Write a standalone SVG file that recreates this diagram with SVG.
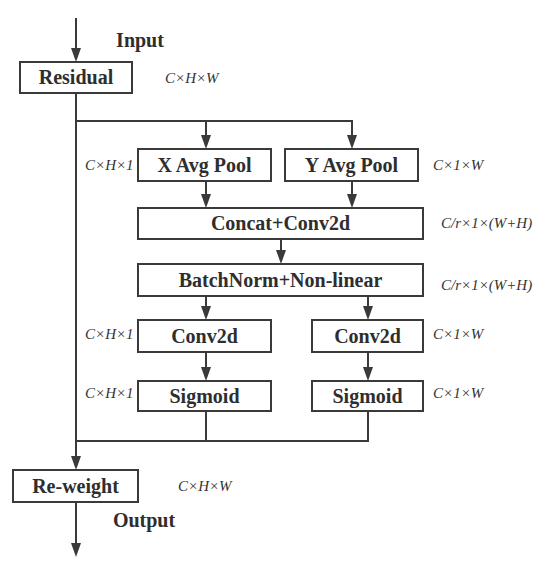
<svg xmlns="http://www.w3.org/2000/svg" width="550" height="575" viewBox="0 0 550 575">
<defs>
<style>
.box{fill:#fff;stroke:#3a3a3a;stroke-width:2}
.t{font-family:"Liberation Serif","Times New Roman",serif;font-weight:bold;font-size:20px;fill:#2e2e2e;text-anchor:middle}
.d{font-family:"Liberation Serif","Times New Roman",serif;font-style:italic;font-size:15px;fill:#333}
.c{fill:none;stroke:#3a3a3a;stroke-width:2}
.h{fill:#3a3a3a}
</style>
</defs>
<rect width="550" height="575" fill="#fff"/>
<g id="connectors">
<line class="c" x1="76" y1="18" x2="76" y2="48"/>
<path class="h" d="M71,48 L81,48 L76,62 Z"/>
<polyline class="c" points="76,93 76,456"/>
<path class="h" d="M71,456 L81,456 L76,470 Z"/>
<polyline class="c" points="76,121 352,121 352,135"/>
<line class="c" x1="206" y1="121" x2="206" y2="135"/>
<path class="h" d="M201,135 L211,135 L206,149 Z"/>
<path class="h" d="M347,135 L357,135 L352,149 Z"/>
<line class="c" x1="206" y1="181" x2="206" y2="194"/>
<path class="h" d="M201,194 L211,194 L206,208 Z"/>
<line class="c" x1="352" y1="181" x2="352" y2="194"/>
<path class="h" d="M347,194 L357,194 L352,208 Z"/>
<line class="c" x1="281" y1="239" x2="281" y2="250"/>
<path class="h" d="M276,250 L286,250 L281,264 Z"/>
<line class="c" x1="206" y1="296" x2="206" y2="306"/>
<path class="h" d="M201,306 L211,306 L206,320 Z"/>
<line class="c" x1="368" y1="296" x2="368" y2="306"/>
<path class="h" d="M363,306 L373,306 L368,320 Z"/>
<line class="c" x1="206" y1="352" x2="206" y2="367"/>
<path class="h" d="M201,367 L211,367 L206,381 Z"/>
<line class="c" x1="368" y1="352" x2="368" y2="367"/>
<path class="h" d="M363,367 L373,367 L368,381 Z"/>
<polyline class="c" points="206,411 206,441"/>
<polyline class="c" points="368,411 368,441 76,441"/>
<line class="c" x1="76" y1="502" x2="76" y2="543"/>
<path class="h" d="M71,543 L81,543 L76,557 Z"/>
</g>
<text class="t" x="140" y="47">Input</text>
<text class="t" x="144" y="527">Output</text>
<g id="residual"><rect class="box" x="20" y="62" width="112" height="31"/><text class="t" x="76" y="84">Residual</text></g>
<text class="d" x="165" y="83">C×H×W</text>
<g id="xpool"><rect class="box" x="138" y="149" width="133" height="32"/><text class="t" x="204.5" y="172">X Avg Pool</text></g>
<text class="d" x="85" y="170">C×H×1</text>
<g id="ypool"><rect class="box" x="285" y="149" width="133" height="32"/><text class="t" x="351.5" y="172">Y Avg Pool</text></g>
<text class="d" x="433" y="170">C×1×W</text>
<g id="concat"><rect class="box" x="138" y="208" width="285" height="31"/><text class="t" x="280.5" y="230">Concat+Conv2d</text></g>
<text class="d" x="441" y="228">C/r×1×(W+H)</text>
<g id="batchnorm"><rect class="box" x="138" y="264" width="285" height="32"/><text class="t" x="280.5" y="287">BatchNorm+Non-linear</text></g>
<text class="d" x="441" y="290">C/r×1×(W+H)</text>
<g id="conv-left"><rect class="box" x="138" y="320" width="133" height="32"/><text class="t" x="204.5" y="343">Conv2d</text></g>
<text class="d" x="85" y="339">C×H×1</text>
<g id="conv-right"><rect class="box" x="312" y="320" width="111" height="32"/><text class="t" x="367.5" y="343">Conv2d</text></g>
<text class="d" x="433" y="339">C×1×W</text>
<g id="sig-left"><rect class="box" x="138" y="381" width="133" height="30"/><text class="t" x="204.5" y="403">Sigmoid</text></g>
<text class="d" x="85" y="398">C×H×1</text>
<g id="sig-right"><rect class="box" x="312" y="381" width="111" height="30"/><text class="t" x="367.5" y="403">Sigmoid</text></g>
<text class="d" x="433" y="398">C×1×W</text>
<g id="reweight"><rect class="box" x="13" y="470" width="125" height="32"/><text class="t" x="75.5" y="493">Re-weight</text></g>
<text class="d" x="178" y="491">C×H×W</text>
</svg>
